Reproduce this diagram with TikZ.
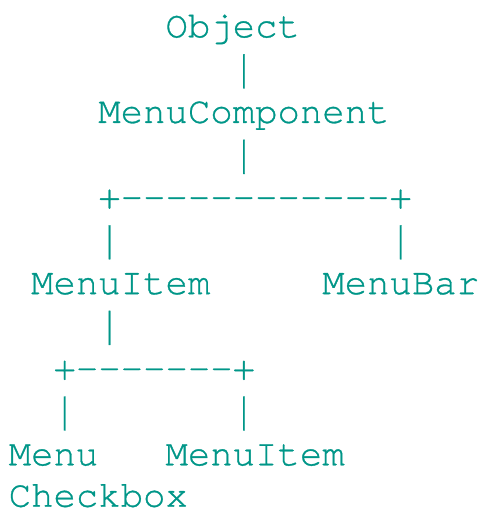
\documentclass[tikz,border=0pt]{standalone}
\usepackage{fontspec}
\usepackage{graphicx}
\newfontfamily\asciifont[FakeBold=0.8]{TeX Gyre Cursor}
\definecolor{treeteal}{RGB}{0,150,136}
\newcommand{\tallbar}{\scalebox{1}[1.25]{|}}
\tikzset{
    ascii/.style={anchor=base west, inner sep=0pt, outer sep=0pt, text=treeteal,
        font=\asciifont\fontsize{37.33}{42.8}\selectfont},
    pipe/.style={ascii, anchor=center}
}
\begin{document}
\begin{tikzpicture}[x=1pt, y=-1pt]
        \useasboundingbox (0,0) rectangle (479,510);
        % row 0 to 3
        \node[ascii] (object) at (165.5,37.3){Object};
        \node[pipe] (pipeA) at (243.9,71.3){\tallbar};
        \node[ascii] (menuComp) at (98.3,122.9){MenuComponent};
        \node[pipe] (pipeB) at (243.9,156.9){\tallbar};
        % first split
        \node[ascii] (splitA) at (98.3,208.5){+------------+};
        \node[pipe] (pipeC) at (109.5,242.3){\tallbar};
        \node[pipe] (pipeD) at (400.7,242.3){\tallbar};
        \node[ascii] (menuItem) at (31.1,294.1){MenuItem};
        \node[ascii] (menuBar) at (322.3,294.1){MenuBar};
        \node[pipe] (pipeE) at (109.5,327.9){\tallbar};
        % second split
        \node[ascii] (splitB) at (53.5,379.7){+-------+};
        \node[pipe] (pipeF) at (64.7,413.5){\tallbar};
        \node[pipe] (pipeG) at (243.9,413.5){\tallbar};
        \node[ascii] (menu) at (8.7,465.3){Menu};
        \node[ascii] (menuItemB) at (165.5,465.3){MenuItem};
        \node[ascii] (checkbox) at (8.7,506.7){Checkbox};

    \end{tikzpicture}
\end{document}
